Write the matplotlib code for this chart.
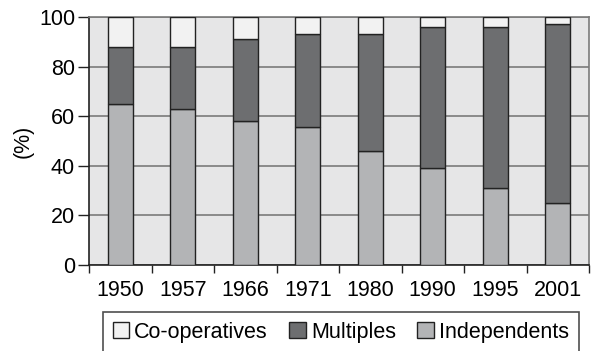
import matplotlib
matplotlib.use("Agg")
import matplotlib.pyplot as plt
import numpy as np

plt.rcParams['font.family'] = ['Liberation Sans', 'DejaVu Sans']

years = ['1950', '1957', '1966', '1971', '1980', '1990', '1995', '2001']
independents = [65, 63, 58, 55.5, 46, 39, 31, 25]
multiples = [23, 25, 33, 37.5, 47, 57, 65, 72]
cooperatives = [12, 12, 9, 7, 7, 4, 4, 3]

c_coop = '#f2f2f2'
c_mult = '#6d6e70'
c_ind = '#b3b4b6'
fs = 15.5

fig = plt.figure(figsize=(5.96, 3.51), dpi=100)
ax = fig.add_axes([89 / 596, 1 - 265 / 351, 500 / 596, 248 / 351])
ax.set_facecolor('#e6e6e7')

x = np.arange(len(years))
w = 0.4
ind = np.array(independents)
mult = np.array(multiples)
coop = np.array(cooperatives)
ax.bar(x, ind, w, color=c_ind, edgecolor='#222222', linewidth=1.0, zorder=3)
ax.bar(x, mult, w, bottom=ind, color=c_mult, edgecolor='#222222', linewidth=1.0, zorder=3)
ax.bar(x, coop, w, bottom=ind + mult, color=c_coop, edgecolor='#222222', linewidth=1.0, zorder=3)

ax.set_xlim(-0.5, len(years) - 0.5)
ax.set_ylim(0, 100)
ax.set_yticks(range(0, 101, 20))
ax.yaxis.grid(True, color='#7a7a7a', linewidth=1.2, zorder=1)
ax.set_axisbelow(True)

# category labels centred, tick marks on the boundaries
ax.set_xticks(x)
ax.set_xticklabels(years, fontsize=fs)
ax.tick_params(axis='x', length=0, pad=11)
ax.set_xticks(np.arange(-0.5, len(years)), minor=True)
ax.tick_params(axis='x', which='minor', length=6, width=1, color='#222222')
ax.tick_params(axis='y', length=8, width=1, color='#222222', labelsize=fs, pad=2)

for s in ['top', 'right']:
    ax.spines[s].set_color('#7a7a7a')
    ax.spines[s].set_linewidth(1.2)
for s in ['left', 'bottom']:
    ax.spines[s].set_color('#222222')
    ax.spines[s].set_linewidth(1.2)

ax.set_ylabel('(%)', fontsize=fs, labelpad=4)

handles = [plt.Rectangle((0, 0), 1, 1, facecolor=c, edgecolor='#222222', linewidth=1)
           for c in (c_coop, c_mult, c_ind)]
leg = fig.legend(handles, ['Co-operatives', 'Multiples', 'Independents'],
                 loc='upper left', bbox_to_anchor=(103 / 596, 1 - 312 / 351),
                 ncol=3, fontsize=fs, frameon=True, fancybox=False,
                 edgecolor='#222222', handlelength=0.75, handleheight=0.75,
                 handletextpad=0.25, columnspacing=1.0, borderpad=0.45,
                 borderaxespad=0)
leg.get_frame().set_linewidth(1.2)

fig.savefig('out.png', dpi=100)
